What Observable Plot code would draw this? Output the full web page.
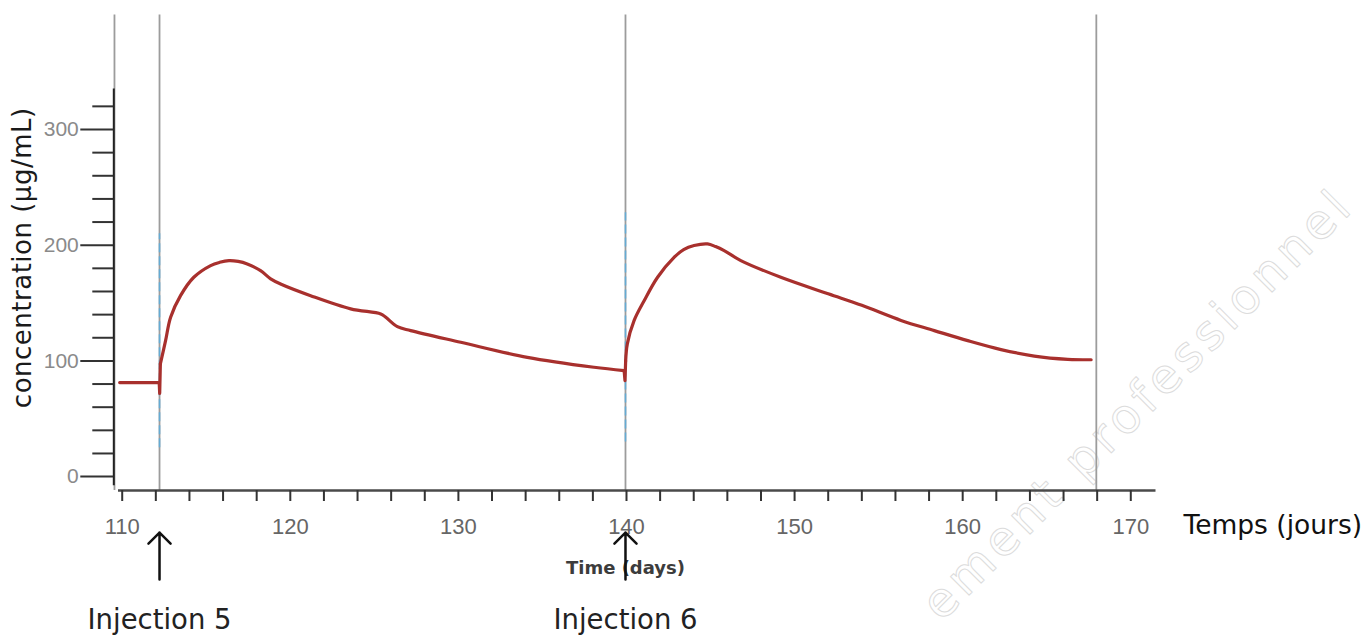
<!DOCTYPE html>
<html><head><meta charset="utf-8">
<script src="https://cdn.jsdelivr.net/npm/d3@7"></script>
<script src="https://cdn.jsdelivr.net/npm/@observablehq/plot@0.6"></script>
<style>
html,body{margin:0;padding:0;background:#fff;overflow:hidden;}
#chart svg{display:block;max-width:none;}
.wm text{letter-spacing:5px;}
.ylab text{letter-spacing:0.5px;}
</style>
</head><body><div id="chart"></div>
<script>
// concentration curve (days, µg/mL)
const days = [109.85, 112.2, 112.23, 112.27, 112.58, 112.88, 113.47, 114.26, 115.26, 115.8, 116.35, 116.9, 117.44, 118.23, 118.83, 119.42, 121.21, 123.59, 125.38, 125.68, 126.37, 127.16, 130.14, 134.1, 138.07, 139.86, 139.91, 139.95, 140.05, 140.45, 141.05, 141.85, 142.83, 143.4, 144.02, 144.82, 145.3, 145.81, 146.8, 149.18, 152, 154, 156.33, 158.31, 160.3, 162.28, 164.26, 166.25, 167.64];
const conc = [81.3, 81.3, 72, 97.4, 117.5, 137.7, 156.4, 172.3, 182.4, 185.2, 186.7, 186.0, 183.8, 178, 170.9, 166.5, 156.4, 145, 140.6, 137.7, 129.6, 126.2, 116.1, 103.1, 94.5, 91.6, 83, 100, 114.7, 134.8, 152, 172.3, 189.5, 196.2, 199.7, 201.1, 198.8, 195.3, 186.7, 172.3, 158, 148, 135, 126.2, 117.5, 109.8, 104.2, 101.4, 101];
// pieces of the curve: straight near the injections, smooth in between (index ranges into the arrays)
const straightPieces = [[0, 3], [25, 27]];
const smoothPieces = [[3, 25], [27, 48]];

// vertical markers (days)
const markerDays = [109.54, 112.22, 139.94, 167.95];
// injections
const injectionDays = [112.22, 139.94];
const injectionLabels = ["Injection 5", "Injection 6"];
// light-blue dashed traces on the injection lines
const blueDays = [112.22, 139.94];
const blueLow = [25, 30];
const blueHigh = [210, 228];

// axes
const xTickLabels = [110, 120, 130, 140, 150, 160, 170];
const xMinorTicks = [110, 112, 114, 116, 118, 120, 122, 124, 126, 128, 130, 132, 134, 136, 138, 140, 142, 144, 146, 148, 150, 152, 154, 156, 158, 160, 162, 164, 166, 168, 170];
const yTickLabels = [0, 100, 200, 300];
const yMinorTicks = [20, 40, 60, 80, 120, 140, 160, 180, 220, 240, 260, 280, 320];

const yTitle = "concentration (µg/mL)";
const xTitle = "Temps (jours)";
const innerTitle = "Time (days)";
const watermark = "ement professionnel";

const pieces = (ranges) => ranges.flatMap(([a, b], k) =>
  d3.range(a, b + 1).map(i => ({day: days[i], conc: conc[i], piece: k})));
const straight = pieces(straightPieces);
const smooth = pieces(smoothPieces);
const injections = injectionDays.map((d, i) => ({day: d, label: injectionLabels[i]}));
const blue = blueDays.map((d, i) => ({day: d, lo: blueLow[i], hi: blueHigh[i]}));

const lineStyle = {stroke: "#a8302d", strokeWidth: 3.2, strokeLinejoin: "round", strokeLinecap: "round"};

const plot = Plot.plot({
  width: 1369,
  height: 635,
  marginLeft: 113.3,
  marginRight: 213.5,
  marginTop: 88.5,
  marginBottom: 145,
  x: {domain: [109.5, 171.5]},
  y: {domain: [-12, 335]},
  style: {fontFamily: "'Liberation Sans', Arial, sans-serif", background: "#fff", overflow: "visible"},
  marks: [
    Plot.text([watermark], {text: d => d, frameAnchor: "top-right", dx: 189.5, dy: 108, rotate: -45,
      textAnchor: "end", lineAnchor: "middle", fontSize: 48, fontFamily: "'DejaVu Sans', sans-serif",
      fill: "none", stroke: "#dcdcdc", strokeWidth: 1, className: "wm"}),
    Plot.ruleX(markerDays, {x: d => d, y1: -12, y2: 399, stroke: "#9c9c9c", strokeWidth: 1.8}),
    Plot.ruleX(blue, {x: "day", y1: "lo", y2: "hi", stroke: "#5aaede", strokeWidth: 1.6, strokeDasharray: "9,4", strokeOpacity: 0.85}),
    // x axis
    Plot.ruleY([-12], {x1: 109.78, x2: 171.5, stroke: "#4a4a4a", strokeWidth: 2.5}),
    Plot.axisX(xMinorTicks, {tickSize: 11, tickPadding: 16.4, stroke: "#333", strokeWidth: 2,
      tickFormat: d => xTickLabels.includes(d) ? String(d) : "", fill: "#666", fontSize: 22, label: null}),
    // y axis
    Plot.ruleX([109.5], {y1: -7.8, y2: 335, stroke: "#222", strokeWidth: 2}),
    Plot.axisY(yTickLabels, {tickSize: 33, tickPadding: 2, stroke: "#333", strokeWidth: 2,
      fill: "#8a8a8a", fontSize: 21, label: null}),
    Plot.axisY(yMinorTicks, {tickSize: 21, tickFormat: () => "", stroke: "#333", strokeWidth: 2, label: null}),
    // curve
    Plot.line(straight, {x: "day", y: "conc", z: "piece", curve: "linear", ...lineStyle}),
    Plot.line(smooth, {x: "day", y: "conc", z: "piece", curve: "catmull-rom", ...lineStyle}),
    // titles
    Plot.text([yTitle], {text: d => d, frameAnchor: "left", dx: -91.3, dy: -32, rotate: -90,
      textAnchor: "middle", lineAnchor: "middle", fontSize: 26, fontFamily: "'DejaVu Sans', sans-serif",
      fill: "#1a1a1a", className: "ylab"}),
    Plot.text([xTitle], {text: d => d, frameAnchor: "bottom-right", dx: 27.5, dy: 43, textAnchor: "start",
      lineAnchor: "bottom", fontSize: 26.5, fontFamily: "'DejaVu Sans', sans-serif", fill: "#111"}),
    Plot.text([innerTitle], {text: d => d, x: () => injectionDays[1], frameAnchor: "bottom", dy: 83,
      lineAnchor: "bottom", fontSize: 18, fontWeight: "bold", fontFamily: "'DejaVu Sans', sans-serif", fill: "#3c3c3c"}),
    // injection arrows and labels
    Plot.arrow(injections, {x: "day", y1: -89, y2: -48.4, headLength: 15, headAngle: 90,
      stroke: "#111", strokeWidth: 2.5}),
    Plot.text(injections, {x: "day", text: "label", frameAnchor: "bottom", dy: 138, lineAnchor: "bottom",
      fontSize: 27.5, fontFamily: "'DejaVu Sans', sans-serif", fill: "#222"})
  ]
});
document.getElementById("chart").appendChild(plot);
</script>
</body></html>
